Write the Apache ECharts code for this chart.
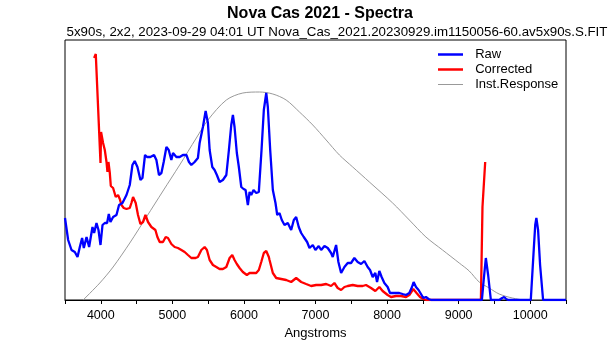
<!DOCTYPE html>
<html>
<head>
<meta charset="utf-8">
<script src="https://cdn.jsdelivr.net/npm/echarts@6/dist/echarts.min.js"></script>
<style>
html,body{margin:0;padding:0;background:#fff;}
#chart{width:615px;height:340px;}
</style>
</head>
<body>
<div id="chart"></div>
<script>
// Wavelength (Angstrom) / relative intensity pairs
const rawWave = [3500,3544,3591,3637,3675,3707,3739,3763,3801,3837,3884,3907,3940,3968,3996,4024,4056,4088,4112,4135,4172,4219,4255,4303,4359,4405,4442,4474,4512,4554,4582,4618,4646,4693,4744,4777,4813,4847,4879,4917,4949,4986,5009,5056,5102,5148,5196,5232,5265,5311,5357,5381,5427,5465,5497,5521,5558,5590,5622,5660,5706,5754,5790,5823,5846,5869,5901,5929,5963,5995,6023,6055,6079,6102,6134,6172,6208,6246,6278,6312,6334,6367,6404,6441,6465,6497,6529,6567,6613,6660,6697,6730,6766,6800,6836,6883,6916,6962,6999,7045,7079,7125,7171,7218,7241,7288,7320,7358,7404,7450,7497,7543,7589,7637,7683,7729,7762,7799,7836,7860,7892,7924,7962,8008,8041,8078,8125,8171,8217,8265,8311,8348,8371,8404,8440,8474,8506,8543,8580,8618,9325,9350,9380,9412,9450,9566,9608,9636,9664,9692,10008,10049,10070,10086,10110,10138,10180,10500];
const rawFlux = [82,60,50,48,43,53,62,52,63,53,73,67,77,70,55,75,77,77,86,78,83,85,95,97,105,115,135,139,133,120,122,145,143,143,145,140,125,127,138,153,150,140,147,143,143,145,145,138,135,138,142,157,173,189,177,150,133,130,125,118,120,125,150,175,185,173,147,133,113,111,110,95,108,105,110,107,108,150,190,207,193,150,110,97,85,87,80,75,77,70,80,83,73,67,63,58,52,55,50,54,50,54,52,47,43,55,38,27,33,37,37,42,38,36,39,33,30,23,27,18,29,23,17,13,7,7,7,7,6,5,7,13,18,13,10,6,2,3,1,0,0,20,42,25,0,0,2,3,1,0,0,50,75,82,70,35,0,0];

const corrWave = [3907,3930,3948,3996,4004,4032,4056,4080,4093,4107,4126,4140,4172,4209,4241,4265,4289,4321,4359,4405,4428,4451,4488,4520,4554,4590,4624,4660,4707,4763,4791,4823,4869,4907,4939,4986,5032,5078,5126,5172,5218,5265,5325,5357,5405,5451,5483,5521,5567,5614,5660,5706,5754,5800,5837,5869,5901,5939,5985,6041,6079,6125,6172,6208,6242,6278,6312,6348,6358,6404,6451,6521,6590,6660,6730,6800,6869,6939,7009,7079,7149,7218,7264,7310,7358,7404,7450,7520,7589,7659,7706,7776,7836,7892,7938,8008,8055,8125,8195,8265,8311,8366,8412,8460,8506,8548,9311,9333,9371];
const corrFlux = [242,246,244,137,168,157,150,138,128,138,127,114,112,103,105,101,95,92,91,92,97,103,97,85,76,78,85,78,73,70,63,58,58,63,62,56,53,52,50,48,45,42,42,43,50,53,50,40,35,33,31,31,33,42,45,40,36,32,28,25,27,27,27,30,38,47,49,43,40,27,22,21,20,18,22,18,16,14,15,15,16,14,17,12,10,13,14,15,14,14,15,12,9,13,9,5,3,4,4,3,5,11,7,3,1,0,0,93,138];

const instWave = [3753,3986,4172,4405,4638,4869,5102,5335,5497,5754,5985,6218,6404,6590,6776,6962,7149,7334,7520,7753,8078,8311,8543,8775,9008,9148,9287,9427,9566,9751,9938,10500];
const instFlux = [0,17,33,57,83,109,135,162,180,200,207,208,206,200,188,175,160,145,133,118,97,80,63,50,37,29,18,12,6,2,0,0];

const xTicks = [4000,5000,6000,7000,8000,9000,10000];

const seriesNames = ['Raw','Corrected','Inst.Response'];
const titleText = 'Nova Cas 2021 - Spectra';
const subTitleText = '5x90s, 2x2, 2023-09-29 04:01 UT Nova_Cas_2021.20230929.im1150056-60.av5x90s.S.FIT';
const xName = 'Angstroms';

function pairs(xs, ys){ return xs.map((x,i)=>[x, ys[i]]); }

const chart = echarts.init(document.getElementById('chart'), null, {renderer:'canvas'});
const FONT = '"Liberation Sans", Arial, sans-serif';
chart.setOption({
  animation: false,
  backgroundColor: '#fff',
  graphic: [
    {type:'text', x:320, y:14, style:{text:titleText, align:'center', verticalAlign:'middle', textAlign:'center', textVerticalAlign:'middle', fontSize:16, fontWeight:'bold', fontFamily:FONT, fill:'#000'}},
    {type:'text', x:337, y:32, style:{text:subTitleText, align:'center', verticalAlign:'middle', textAlign:'center', textVerticalAlign:'middle', fontSize:13.3, fontFamily:FONT, fill:'#000'}}
  ],
  grid: {left:65, right:49, top:40, bottom:40, show:true, borderColor:'#000', borderWidth:1, backgroundColor:'transparent', outerBoundsMode:'none', containLabel:false},
  legend: {
    orient:'vertical', left:433, top:43, itemWidth:25, itemHeight:14, itemGap:2,
    textStyle:{fontSize:13, fontFamily:FONT, color:'#000'},
    formatter: n => '  ' + n,
    data: [
      {name:seriesNames[0], icon:'path://M0,0H25V2.5H0Z'},
      {name:seriesNames[1], icon:'path://M0,0H25V2.5H0Z'},
      {name:seriesNames[2], icon:'path://M0,0H25V1H0Z'}
    ]
  },
  xAxis: {
    type:'value', min:3500, max:10500, interval:500,
    name:xName, nameLocation:'middle', nameGap:23,
    nameTextStyle:{fontSize:13, fontFamily:FONT, color:'#000'},
    axisLine:{lineStyle:{color:'#000', width:1}},
    axisTick:{show:true, length:4, lineStyle:{color:'#000'}},
    axisLabel:{margin:9, fontSize:12.5, fontFamily:FONT, color:'#000',
      formatter: v => xTicks.indexOf(v) >= 0 ? String(v) : ''},
    splitLine:{show:false}
  },
  yAxis: {type:'value', min:0, max:260, show:false, splitLine:{show:false}},
  series: [
    {name:seriesNames[2], type:'line', data:pairs(instWave, instFlux), symbol:'none', smooth:0.3,
      lineStyle:{color:'#999999', width:1}, itemStyle:{color:'#999999'}, z:1},
    {name:seriesNames[1], type:'line', data:pairs(corrWave, corrFlux), symbol:'none',
      lineStyle:{color:'#ff0000', width:2.3}, itemStyle:{color:'#ff0000'}, z:2},
    {name:seriesNames[0], type:'line', data:pairs(rawWave, rawFlux), symbol:'none',
      lineStyle:{color:'#0000ff', width:2.3}, itemStyle:{color:'#0000ff'}, z:3}
  ]
});
</script>
</body>
</html>
